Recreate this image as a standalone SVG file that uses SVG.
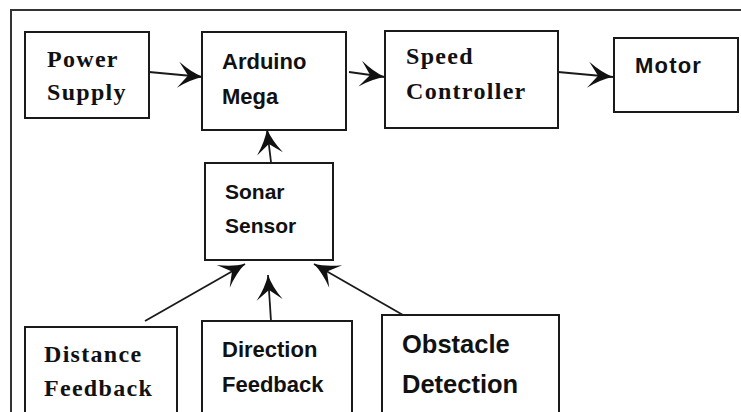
<svg xmlns="http://www.w3.org/2000/svg" width="741" height="412" viewBox="0 0 741 412">
  <style>
    .box { fill: #fff; stroke: #1a1a1a; stroke-width: 2; }
    .serif { font-family: "Liberation Serif", "Times New Roman", serif; font-weight: bold; font-size: 24px; letter-spacing: 1.3px; fill: #111; }
    .sans { font-family: "Liberation Sans", Arial, sans-serif; font-weight: bold; font-size: 22px; fill: #111; }
    .link { stroke: #1a1a1a; stroke-width: 1.8; fill: none; marker-end: url(#head); }
  </style>
  <defs>
    <marker id="head" markerUnits="userSpaceOnUse" markerWidth="30" markerHeight="30" refX="0" refY="0" viewBox="-26 -15 30 30" orient="auto">
      <path d="M0,0 Q-12,-3.5 -25,-13 L-15,0 L-25,13 Q-12,3.5 0,0 Z" fill="#111"/>
    </marker>
  </defs>
  <rect width="741" height="412" fill="#fff"/>

  <!-- outer frame (left and top edges) -->
  <path d="M11,414 V10 H743" fill="none" stroke="#333" stroke-width="2"/>

  <g id="connectors">
    <line class="link" x1="149" y1="72" x2="203" y2="77"/>
    <line class="link" x1="349" y1="72" x2="385" y2="77"/>
    <line class="link" x1="558" y1="72" x2="613" y2="77"/>
    <line class="link" x1="271" y1="162" x2="267" y2="129"/>
    <line class="link" x1="145" y1="321" x2="245" y2="264"/>
    <line class="link" x1="271" y1="321" x2="268" y2="275"/>
    <line class="link" x1="403" y1="315" x2="314" y2="264"/>
  </g>

  <g id="power-supply">
    <rect class="box" x="25" y="32" width="124" height="86"/>
    <text class="serif" x="47" y="67">Power</text>
    <text class="serif" x="47" y="100">Supply</text>
  </g>

  <g id="arduino-mega">
    <rect class="box" x="202" y="32" width="144" height="98"/>
    <text class="sans" x="222" y="69">Arduino</text>
    <text class="sans" x="222" y="104">Mega</text>
  </g>

  <g id="speed-controller">
    <rect class="box" x="385" y="31" width="173" height="97"/>
    <text class="serif" x="406" y="64">Speed</text>
    <text class="serif" x="406" y="99">Controller</text>
  </g>

  <g id="motor">
    <rect class="box" x="614" y="38" width="124" height="74"/>
    <text class="sans" x="635" y="73" style="letter-spacing:1.2px">Motor</text>
  </g>

  <g id="sonar-sensor">
    <rect class="box" x="205" y="163" width="128" height="97"/>
    <text class="sans" x="225" y="199" style="font-size:21px">Sonar</text>
    <text class="sans" x="225" y="233" style="font-size:21px">Sensor</text>
  </g>

  <g id="distance-feedback">
    <rect class="box" x="25" y="327" width="152" height="100"/>
    <text class="serif" x="44" y="362">Distance</text>
    <text class="serif" x="44" y="396">Feedback</text>
  </g>

  <g id="direction-feedback">
    <rect class="box" x="202" y="321" width="150" height="100"/>
    <text class="sans" x="222" y="357">Direction</text>
    <text class="sans" x="222" y="392">Feedback</text>
  </g>

  <g id="obstacle-detection">
    <rect class="box" x="382" y="315" width="177" height="110"/>
    <text class="sans" x="402" y="353" style="font-size:25.5px">Obstacle</text>
    <text class="sans" x="402" y="393" style="font-size:25.5px">Detection</text>
  </g>
</svg>
